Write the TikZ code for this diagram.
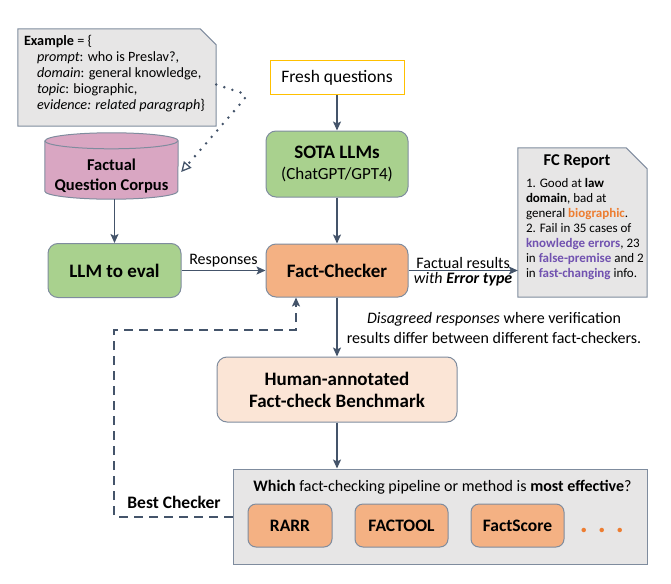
\documentclass[tikz,border=0pt]{standalone}
\usepackage{fontspec}
\setmainfont{Carlito}
\usepackage{tikz}
\usetikzlibrary{arrows.meta}
\usetikzlibrary{calc}
\definecolor{linecol}{HTML}{44546A}
\definecolor{edgecol}{HTML}{7F8C9E}
\definecolor{llmgreen}{HTML}{A9D18E}
\definecolor{checkorange}{HTML}{F4B183}
\definecolor{benchpeach}{HTML}{FBE5D6}
\definecolor{notegray}{HTML}{E7E6E6}
\definecolor{corpuspink}{HTML}{D9A6C2}
\definecolor{freshyellow}{HTML}{FFC000}
\definecolor{hlorange}{HTML}{ED7D31}
\definecolor{hlpurple}{HTML}{7152B0}
\newcommand{\fsize}[2]{\fontsize{#1pt}{#2pt}\selectfont}

\begin{document}
\begin{tikzpicture}[x=1pt, y=-1pt,
	box/.style={draw=edgecol, line width=1pt, rounded corners=10pt, align=center, font=\fsize{19}{22}\bfseries},
	tool/.style={box, fill=checkorange, rounded corners=8pt, minimum height=43pt, font=\fsize{17.5}{20}\bfseries},
	flow/.style={draw=linecol, line width=1.6pt, -{Stealth[length=9pt, width=8pt, inset=2pt]}},
	feedback/.style={draw=linecol, line width=2pt, dash pattern=on 9pt off 6pt, -{Stealth[length=9pt, width=8pt, inset=2pt]}},
	hint/.style={draw=linecol, line width=2.8pt, line cap=round, dash pattern=on 0pt off 8.5pt, rounded corners=6pt, -{Triangle[open, length=10pt, width=10pt, line width=1.3pt]}},
	note/.style={fill=notegray, draw=edgecol, line width=1pt}]
	\useasboundingbox (0,0) rectangle (671,583);

	% example note and corpus
	\node[minimum width=198pt, minimum height=97pt, inner sep=0pt] (example) at (117,77.5) {};
	\filldraw[note] (example.south west) -- (example.north west) -- ([xshift=-16pt]example.north east) -- ([yshift=-16pt]example.north east) -- (example.south east) -- cycle;
	\node[anchor=north west, align=left, font=\fsize{14.2}{16}, inner sep=0pt] (exampletext) at ([shift={(6pt,-6.5pt)}]example.north west) {\textbf{Example} = \{\\
		\hspace*{13pt}\textit{prompt}: who is Preslav?,\\
		\hspace*{13pt}\textit{domain}: general knowledge,\\
		\hspace*{13pt}\textit{topic}: biographic,\\
		\hspace*{13pt}\textit{evidence: related paragraph}\}};

	\node[minimum width=133pt, minimum height=66pt, inner sep=0pt] (corpus) at (111.5,166) {};
	\filldraw[fill=corpuspink, draw=edgecol, line width=1pt] ([yshift=-8pt]corpus.north west) -- ([yshift=8pt]corpus.south west) arc[start angle=180, end angle=360, x radius=66.5pt, y radius=8pt] -- ([yshift=-8pt]corpus.north east) arc[start angle=0, end angle=180, x radius=66.5pt, y radius=8pt] -- cycle;
	\draw[edgecol, line width=1pt] ([yshift=-8pt]corpus.north west) arc[start angle=180, end angle=360, x radius=66.5pt, y radius=8pt];
	\node[font=\fsize{16.5}{20}\bfseries, align=center] (corpuslabel) at ([yshift=-10pt]corpus.center) {Factual\\Question Corpus};

	% main column
	\node[draw=freshyellow, line width=1pt, minimum width=134pt, minimum height=34pt, font=\fsize{17.5}{20}] (fresh) at (337,78) {Fresh questions};
	\node[box, fill=llmgreen, minimum width=142pt, minimum height=66pt] (sota) at (337,164) {SOTA LLMs\\[-1pt]{\mdseries\fsize{17}{21}(ChatGPT/GPT4)}};
	\node[box, fill=checkorange, minimum width=142pt, minimum height=53pt] (checker) at (337,270.5) {Fact-Checker};
	\node[box, fill=llmgreen, minimum width=133pt, minimum height=54pt] (llm) at (114.5,270.5) {LLM to eval};
	\node[box, fill=benchpeach, minimum width=240pt, minimum height=65pt] (human) at (337,389.5) {Human-annotated\\Fact-check Benchmark};

	% FC report
	\node[minimum width=129pt, minimum height=149pt, inner sep=0pt] (report) at (582.5,222.5) {};
	\filldraw[note] (report.south west) -- (report.north west) -- ([xshift=-21pt]report.north east) -- ([yshift=-21pt]report.north east) -- (report.south east) -- cycle;
	\node[font=\fsize{16.5}{19}\bfseries] (reporttitle) at ([shift={(-5.5pt,-13.5pt)}]report.north) {FC Report};
	\node[anchor=north west, align=left, font=\fsize{13}{15}, inner sep=0pt] (reporttext) at ([shift={(8pt,-30pt)}]report.north west) {1. Good at \textbf{law}\\
		\textbf{domain}, bad at\\
		general \textbf{\color{hlorange}biographic}.\\
		2. Fail in 35 cases of\\
		\textbf{\color{hlpurple}knowledge errors}, 23\\
		in \textbf{\color{hlpurple}false-premise} and 2\\
		in \textbf{\color{hlpurple}fast-changing} info.};

	% benchmark pool
	\node[note, minimum width=414pt, minimum height=95pt] (bench) at (440,516.5) {};
	\node[font=\fsize{16}{19}] (question) at (442.5,487) {\textbf{Which} fact-checking pipeline or method is \textbf{most effective}?};
	\node[tool, minimum width=84pt] (rarr) at (290,525.5) {RARR};
	\node[tool, minimum width=93pt] (factool) at (401.5,525.5) {FACTOOL};
	\node[tool, minimum width=93pt] (factscore) at (517.5,525.5) {FactScore};
	\node[text=hlorange, font=\fsize{30}{30}\bfseries, inner sep=0pt] (more) at (602,530) {.\,\,.\,\,.};

	% connectors
	\draw[flow] (fresh) -- (sota);
	\draw[flow] (sota) -- (checker);
	\draw[flow] (corpus.south -| llm.north) -- (llm);
	\draw[flow] (llm) -- node[above, inner sep=3pt, font=\fsize{16}{19}] (resp) {Responses} (checker);
	\draw[flow] (checker.east) -- node[above, inner sep=1.5pt, font=\fsize{16}{19}] (factual) {Factual results} node[below, inner sep=1.5pt, font=\fsize{16}{19}] (errtype) {\textit{with \textbf{Error type}}} (checker.east -| report.west);
	\draw[flow] (checker) -- (human);
	\draw[flow] (human) -- (human.south |- bench.north);
	\node[font=\fsize{16}{20}, align=center] (disagree) at (494,328) {\textit{Disagreed responses} where verification\\results differ between different fact-checkers.};

	\coordinate (turn) at (114,330);
	\draw[feedback] (bench.west) -| (turn) -| ([xshift=-41pt]checker.south);
	\node[font=\fsize{17.5}{20}\bfseries] (best) at (174,502) {Best Checker};

	\coordinate (dotbend) at (248,95);
	\draw[hint] ([yshift=-7pt]example.east) -- (dotbend) -- ([shift={(3pt,-6pt)}]corpus.east);
\end{tikzpicture}
\end{document}
